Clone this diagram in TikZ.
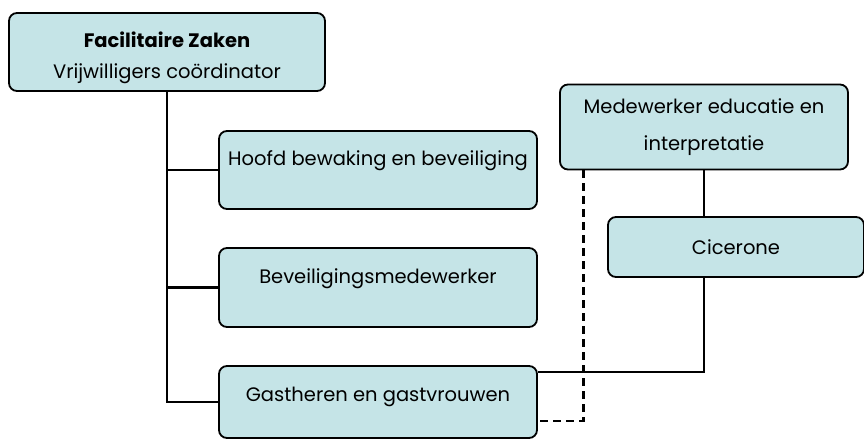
\documentclass[tikz,border=0pt]{standalone}
\usepackage{fontspec}
\setmainfont{Poppins}
\usepackage{tikz}
\definecolor{boxfill}{HTML}{C5E4E7}

\begin{document}
\begin{tikzpicture}[x=1pt, y=-1pt,
    box/.style={draw, fill=boxfill, rounded corners=8pt, line width=1.8pt,
        inner sep=0pt, align=center, font=\fontsize{19.5}{24}\selectfont},
    tree/.style={line width=2.8pt},
    thinlink/.style={line width=1.6pt},
    dashlink/.style={line width=2.8pt, dash pattern=on 8pt off 5pt}]
    \useasboundingbox (0,0) rectangle (864,440);

    % boxes of the left tree
    \node[box, anchor=base, minimum width=316pt, text height=65pt, text depth=13pt]
        (fz) at (167,78) {\textbf{Facilitaire Zaken}\\[7pt]Vrijwilligers coördinator};
    \node[box, anchor=base, minimum width=318pt, text height=34pt, text depth=44pt]
        (hoofd) at (378,165) {Hoofd bewaking en beveiliging};
    \node[box, anchor=base, minimum width=318pt, text height=35pt, text depth=44pt]
        (bev) at (378,283) {Beveiligingsmedewerker};
    \node[box, anchor=base, minimum width=318pt, text height=35pt, text depth=37pt]
        (gast) at (378,401) {Gastheren en gastvrouwen};

    % boxes on the right
    \node[box, minimum width=288pt, minimum height=85pt]
        (med) at (704,127) {Medewerker educatie en\\[13pt]interpretatie};
    \node[box, minimum width=256pt, minimum height=60pt]
        (cic) at (736,247) {Cicerone};

    % connectors
    \draw[tree] (fz.south) |- (hoofd.west);
    \draw[tree] (fz.south) |- (bev.west);
    \draw[tree] (fz.south) |- (gast.west);
    \draw[thinlink] (med.south) -- (med.south |- cic.north);
    \draw[thinlink] (med.south |- cic.south) |- ([yshift=-7pt]gast.north east);
    \draw[dashlink] ([xshift=24pt]med.south west) |- ([yshift=18pt]gast.south east);
\end{tikzpicture}
\end{document}
